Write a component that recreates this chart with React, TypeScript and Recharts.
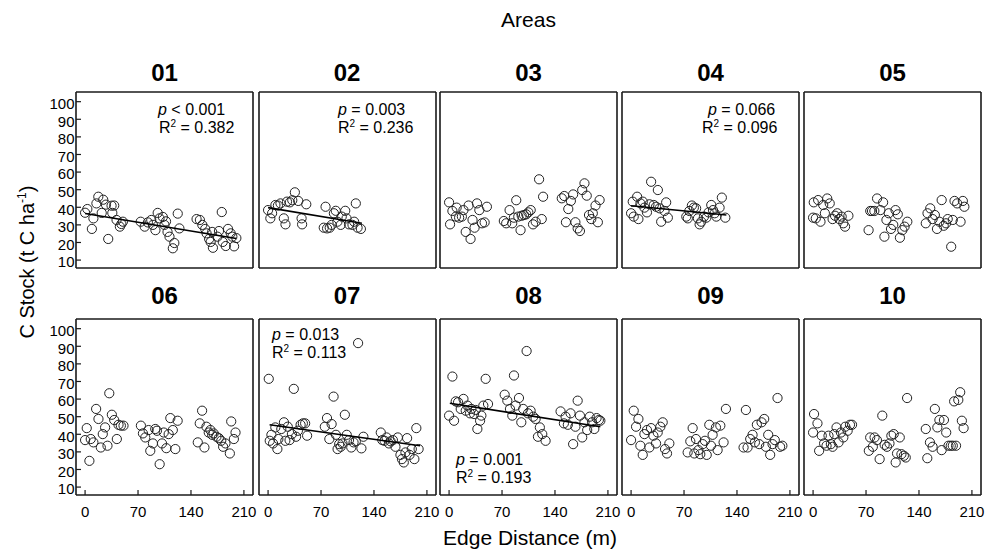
import React from "react";
import { Scatter, ScatterChart, XAxis, YAxis } from "recharts";

type Pair = [number, number];

const areaTitles = ["01", "02", "03", "04", "05", "06", "07", "08", "09", "10"];
const distTicks = [0, 70, 140, 210];
const stockTicks = [10, 20, 30, 40, 50, 60, 70, 80, 90, 100];

// edge distance (m), C stock (t C/ha)
const area01: Pair[] = [
  [0, 36.9], [3, 39], [9, 27.7], [11, 33.7], [15, 42.2], [17.5, 46], [22, 36.8], [24, 44.3], [27.6, 41.5],
  [30.6, 22], [35, 40.9], [36, 36.8], [38.5, 41], [41.6, 32.8], [46, 29], [48, 30.5], [50, 31.8],
  [73.5, 31.8], [78.8, 29], [83, 31.4], [87.5, 32.8], [89.7, 30], [93, 27], [96, 36.8], [98.4, 33.7],
  [102.8, 34.5], [105, 30], [107, 32], [109, 26], [111.6, 23.3], [116, 16.7], [118, 19.7], [122.5, 36.4],
  [124.7, 28], [147.4, 33.3], [151.8, 32.8], [155, 30], [158.8, 27.7], [160.6, 25.2], [164, 22], [166, 20.3],
  [168, 26], [169, 17], [175, 23.3], [177, 26.5], [180.7, 37.3], [182, 20.3], [186, 18], [189, 27.7],
  [192.5, 25.2], [194.7, 23.3], [197, 17.8], [200, 22.5],
];
const area02: Pair[] = [
  [0, 38.4], [3, 33.7], [5.3, 36.6], [9.7, 41.3], [13, 41], [16.4, 42.2], [20.8, 33.7], [23, 30.3], [25, 43.2],
  [28.8, 42.8], [32, 44], [35.4, 48.5], [39.9, 43.6], [44.3, 33.7], [45, 30.3], [50.5, 41.7], [73.6, 28.4],
  [76, 40.3], [78, 28], [81.5, 28.4], [84, 30], [87, 36.6], [89.5, 38], [91.7, 31.8], [96, 30], [97.4, 34.7],
  [102, 38], [103.7, 33.7], [107, 30.3], [111.6, 30], [113.8, 31.8], [116, 42.2], [118.3, 28.4], [122.7, 27.7],
];
const area03: Pair[] = [
  [0, 42.8], [1.3, 30.3], [4.4, 37.9], [9, 34.7], [10, 39.8], [13.3, 34.1], [16.9, 34.7], [19, 38.4], [22, 26],
  [25.8, 41], [28.4, 22], [31, 32.8], [33.7, 28.4], [36.9, 42.2], [40, 38.4], [43.5, 30.9], [47, 31.4], [50, 40.3],
  [72.4, 32.2], [75.5, 30.9], [80, 38.4], [83.5, 30.9], [85.7, 34.1], [88.8, 44], [91.5, 34.7], [94.5, 27],
  [96, 35.2], [99, 35.6], [102, 36], [104.8, 37.1], [107.9, 38.4], [111, 30.3], [114.5, 31.8], [119, 55.9],
  [122.5, 33.3], [124.3, 46], [149, 45.1], [152.3, 46.4], [154.5, 31.5], [157.6, 39], [161, 43.6], [164, 47.3],
  [167, 31.5], [170, 28], [173, 26.5], [176, 49.8], [179, 53.6], [182, 46.6], [185, 35.6], [188, 33.3],
  [190, 36.6], [193.6, 41], [196.7, 31.5], [199, 44.1],
];
const area04: Pair[] = [
  [0, 36.6], [2.2, 43.2], [3.5, 34.7], [8, 46], [9.7, 33.3], [12.4, 42.2], [15.5, 43.2], [17.7, 39.8], [21, 37.1],
  [24.3, 41.7], [26.5, 54.5], [30, 41.3], [33, 40.3], [35.4, 49.8], [37.6, 39.4], [39.8, 31.8], [44.2, 37.9],
  [46.4, 42.8], [48.6, 34.1], [73, 34.7], [75, 33.7], [77, 37.9], [80.4, 41], [83, 39.8], [86, 39.4], [88.4, 33.7],
  [90.6, 30.3], [92.8, 31.8], [96.4, 34.7], [99.5, 34.1], [102.5, 37.1], [106, 41.3], [108.3, 38.4], [110.5, 36.6],
  [112.7, 34.7], [117, 39.8], [120, 45.5], [124.6, 34.1],
];
const area05: Pair[] = [
  [0, 34.1], [0.9, 42.8], [3.6, 33.7], [6.7, 44.1], [9.8, 31.8], [13.4, 41.3], [15.6, 36.6], [18.7, 45], [22, 42.2],
  [25.8, 33.3], [29, 35.2], [32, 36.6], [34.7, 33.3], [37.8, 34.7], [40, 30.9], [42.3, 29], [46.7, 35.2],
  [73.4, 27], [75.6, 37.9], [77.9, 37.9], [81, 37.9], [84.6, 45], [89, 38.4], [92.6, 42.8], [94.3, 23.3], [97, 32.8],
  [100, 36.6], [103, 27.7], [106, 30], [109, 38.4], [112, 36], [114.8, 22.7], [118, 27], [121, 29], [124.6, 31.8],
  [149, 30.9], [151.3, 36.6], [154.9, 39.4], [158, 33.3], [161, 35.6], [163.8, 27.7], [167, 31.8], [170, 44.1],
  [172.7, 29.5], [175.8, 30.9], [178, 33.3], [182.6, 17.6], [184.7, 32.8], [187, 43.6], [190.5, 42.2], [195, 31.8],
  [198, 43.6], [200, 40.3],
];
const area06: Pair[] = [
  [0, 36.7], [2.2, 43.5], [5.7, 24.9], [7.5, 37.3], [11, 35.4], [14.6, 54.4], [17.7, 48.7], [20.8, 32.5], [23.4, 40.1],
  [26.5, 43.9], [29.6, 33.5], [32, 63.3], [35.4, 51.1], [38.5, 48.1], [42, 37.3], [44.2, 45.4], [47.3, 44.9],
  [50.8, 44.9], [73.8, 44.9], [76.5, 40.5], [79.6, 38.2], [84, 42.4], [86.2, 30.6], [89.7, 34.8], [92.8, 43],
  [95, 42], [98.6, 23], [101.7, 34.8], [104, 41], [107.4, 32.1], [110.5, 40.1], [112.7, 49.2], [116, 42.4],
  [119.3, 31.6], [122.4, 47.7], [149, 35.4], [151.6, 46.2], [154.7, 53.4], [157.8, 32.5], [160.4, 44.3],
  [163.5, 41], [165.7, 42.4], [168, 39.7], [170, 40.5], [173.7, 38.6], [176.8, 37.8], [180, 36.3], [182.5, 32.9],
  [185.6, 34.8], [191.4, 29.1], [193.2, 47.3], [196.7, 37.3], [198.9, 41],
];
const area07: Pair[] = [
  [0.9, 71.5], [2.2, 36.3], [4.4, 39.7], [6.6, 34.8], [9.6, 43.9], [12.3, 31.6], [13.6, 37.3], [17.5, 43], [21, 46.8],
  [22.8, 36.3], [26, 44.3], [28.4, 36.7], [31.5, 40.1], [34, 65.8], [37, 38.6], [39.4, 42], [43, 45.4], [46, 46.2],
  [49, 46.2], [51.6, 39.2], [75, 44.3], [77.9, 49.2], [81, 37.3], [84, 45.8], [86.6, 61.4], [89.7, 39.7],
  [91.9, 31.6], [94, 34.4], [96, 32.9], [98.4, 34.8], [101.5, 51.1], [104, 39.7], [107, 36.7], [110, 32.5],
  [113, 35.4], [116, 36], [119, 91.8], [123.4, 32], [126, 38.6], [149, 41], [151, 36.7], [154, 36.3], [156.6, 38.2],
  [159.7, 34.8], [162, 36], [165, 36.7], [168.4, 32.9], [171.5, 38.2], [175, 28.3], [177, 25.9], [179.4, 24],
  [181.6, 29.7], [183.8, 37.8], [187, 28.3], [190, 31.6], [193.4, 25.9], [196, 43.5], [199, 31.6],
];
const area08: Pair[] = [
  [0, 50.6], [4.4, 72.8], [6.6, 47.7], [8.8, 58.7], [11.9, 58.2], [15.4, 54.4], [19, 60.1], [22, 53.4], [24.2, 56.3],
  [27.7, 51.9], [29.5, 54.4], [33, 51.5], [35.2, 53.8], [37.4, 43], [41, 47.7], [42.7, 50.6], [45.3, 56.3],
  [48.4, 71.5], [51.5, 57.2], [73.5, 62.5], [77, 59.1], [80.5, 54.4], [83.6, 50.6], [85.8, 73.4], [88, 56.3],
  [92.4, 60.6], [95.5, 46.8], [98, 54.4], [102.5, 87.3], [104.3, 51.9], [107.8, 53.4], [111.3, 50], [114.4, 48.7],
  [117.5, 38.6], [120, 43.9], [123.2, 40.1], [127.6, 36.3], [147.4, 53], [151.8, 46.2], [154, 50], [157, 45.4],
  [160.6, 51.9], [164, 34.4], [167, 44.3], [170, 59.1], [173, 50.6], [176, 38.2], [179, 46.8], [182.6, 42.4],
  [186, 50], [189, 46.8], [192, 43], [195, 49.2], [198, 48.1], [200, 47.7],
];
const area09: Pair[] = [
  [0, 36.7], [3.5, 53.4], [6.6, 44.3], [9.7, 48.7], [12.3, 33.5], [15.4, 28.3], [17.6, 40.1], [21, 42.4], [24.2, 32.5],
  [26.4, 43.5], [29.5, 39.2], [33, 34.8], [35.2, 41], [38.7, 44.3], [41.8, 46.8], [44.9, 31.6], [47.5, 29.1],
  [50.6, 34.8], [74.8, 29.7], [78.3, 36], [81.4, 43.5], [83.6, 29.1], [85.8, 37.3], [89, 31], [91.5, 28.7],
  [94.6, 34.4], [97.7, 36.3], [100, 28.3], [103.4, 45.4], [105.6, 33.5], [107.8, 39.7], [112.2, 43.9], [114.4, 31],
  [118, 44.9], [122.3, 35.4], [125.4, 54.4], [148.7, 32.5], [151.8, 53.8], [154, 32.5], [157.5, 37.3],
  [160.6, 39.7], [163.7, 35.4], [166.3, 45.4], [169.4, 34.4], [172.5, 46.8], [176, 48.7], [178.2, 32.9],
  [181.3, 39.7], [183.9, 28.3], [187, 34.4], [190, 36.7], [193.6, 60.6], [197, 32.9], [200, 33.5],
];
const area10: Pair[] = [
  [0, 41], [1.3, 51.5], [5.8, 46.2], [8, 30.6], [11.5, 39.2], [14.6, 34.8], [17.8, 33.5], [20.4, 39.2], [23.5, 34.4],
  [25.8, 32.9], [28, 40.1], [31, 43.9], [33.7, 35.4], [36.9, 41], [40, 38.2], [42.6, 44.3], [45.7, 42], [48.8, 45.4],
  [51.5, 45.4], [73.7, 30.6], [75.5, 38.2], [79, 32.9], [81.3, 38.2], [84.4, 36.7], [88, 25.9], [91.5, 50.6],
  [94.6, 34], [97.7, 32.9], [101, 34.8], [103.5, 39.2], [106.6, 40.1], [109.2, 24], [111, 29.1], [114.6, 38.2],
  [116.8, 28.7], [120, 27.8], [122.5, 26.8], [124.3, 60.6], [149, 43], [151, 26.4], [154.5, 35.4], [158, 32.9],
  [161, 54.4], [164.3, 43.9], [167, 48.1], [170, 31], [173, 48.1], [176, 41], [179, 33.5], [182, 33.5],
  [184.7, 33.5], [186.5, 58.7], [189, 33.5], [192, 59.5], [194.5, 63.9], [196.7, 47.7], [199, 43.5],
];

// fitted regression lines (start, end) where significant
const trend01: Pair[] = [[0, 36.5], [200, 22.3]];
const trend02: Pair[] = [[0, 39.8], [124, 30.9]];
const trend04: Pair[] = [[0, 40.9], [126, 35.6]];
const trend07: Pair[] = [[2, 45.4], [201, 33.5]];
const trend08: Pair[] = [[1, 57.6], [200, 44.3]];

const pValues = ["< 0.001", "= 0.003", null, "= 0.066", null, null, "= 0.013", "= 0.001", null, null];
const r2Values = ["0.382", "0.236", null, "0.096", null, null, "0.113", "0.193", null, null];

const areas = [area01, area02, area03, area04, area05, area06, area07, area08, area09, area10];
const trends = [trend01, trend02, null, trend04, null, null, trend07, trend08, null, null];

// layout
const PLOT_LEFT = [76, 258.5, 440, 622, 804];
const PLOT_TOP = [92, 319];
const PLOT_W = 177;
const PLOT_H = 176;
const Y_AXIS_W = 40;
const X_AXIS_H = 30;
const statPos: Record<number, { left: number; top: number; rLeft: number }> = {
  0: { left: 158, top: 101, rLeft: 159 },
  1: { left: 338, top: 101, rLeft: 338 },
  3: { left: 708, top: 101, rLeft: 702 },
  6: { left: 272, top: 326, rLeft: 272 },
  7: { left: 456, top: 451, rLeft: 456 },
};

const frameLine = { stroke: "#1a1a1a", strokeWidth: 1.6 };
const tickLine = { stroke: "#1a1a1a", strokeWidth: 1.2 };
const font = "'Liberation Sans', Arial, sans-serif";

const toPoints = (pairs: Pair[]) => pairs.map(([x, y]) => ({ x, y }));

function OpenCircle(props: any) {
  return <circle cx={props.cx} cy={props.cy} r={4.6} fill="none" stroke="#222" strokeWidth={1} />;
}

function Panel({ index }: { index: number }) {
  const col = index % 5;
  const row = Math.floor(index / 5);
  const trend = trends[index];
  const showX = row === 1;
  const showY = col === 0;

  return (
    <div style={{ position: "absolute", left: PLOT_LEFT[col] - Y_AXIS_W, top: PLOT_TOP[row] - 4 }}>
      <ScatterChart
        width={Y_AXIS_W + PLOT_W + 4}
        height={PLOT_H + 4 + X_AXIS_H}
        margin={{ top: 3, right: 3, bottom: 0, left: 0 }}
      >
        <XAxis
          xAxisId="b"
          type="number"
          dataKey="x"
          domain={[-12, 222]}
          allowDataOverflow
          ticks={distTicks}
          interval={0}
          height={X_AXIS_H}
          tickSize={-5}
          tickMargin={16}
          axisLine={frameLine}
          tickLine={tickLine}
          tick={showX ? { fill: "#000", fontSize: 15 } : false}
        />
        <XAxis
          xAxisId="t"
          orientation="top"
          type="number"
          domain={[-12, 222]}
          allowDataOverflow
          ticks={distTicks}
          interval={0}
          height={1}
          tickSize={-5}
          axisLine={frameLine}
          tickLine={tickLine}
          tick={false}
        />
        <YAxis
          yAxisId="l"
          type="number"
          dataKey="y"
          domain={[5.5, 105.5]}
          allowDataOverflow
          ticks={stockTicks}
          interval={0}
          width={Y_AXIS_W}
          tickSize={-5}
          tickMargin={6.5}
          axisLine={frameLine}
          tickLine={tickLine}
          tick={showY ? { fill: "#000", fontSize: 15, dy: 2 } : false}
        />
        <YAxis
          yAxisId="r"
          orientation="right"
          type="number"
          domain={[5.5, 105.5]}
          allowDataOverflow
          ticks={stockTicks}
          interval={0}
          width={1}
          tickSize={-5}
          axisLine={frameLine}
          tickLine={tickLine}
          tick={false}
        />
        <Scatter
          xAxisId="b"
          yAxisId="l"
          data={toPoints(areas[index])}
          shape={OpenCircle}
          isAnimationActive={false}
        />
        {trend ? (
          <Scatter
            xAxisId="b"
            yAxisId="l"
            data={toPoints(trend)}
            line={{ stroke: "#000", strokeWidth: 1.6 }}
            shape={() => <g />}
            isAnimationActive={false}
          />
        ) : null}
      </ScatterChart>
    </div>
  );
}

export default function App() {
  return (
    <div
      style={{
        position: "absolute",
        left: 0,
        top: 0,
        width: 988,
        height: 558,
        background: "#fff",
        fontFamily: font,
        color: "#000",
      }}
    >
      <div style={{ position: "absolute", left: 0, width: 1057, top: 7, textAlign: "center", fontSize: 21, lineHeight: "26px" }}>
        Areas
      </div>

      {areaTitles.map((title, i) => (
        <div
          key={title}
          style={{
            position: "absolute",
            left: PLOT_LEFT[i % 5],
            width: PLOT_W,
            top: i < 5 ? 59 : 282,
            textAlign: "center",
            fontSize: 24,
            fontWeight: 700,
            lineHeight: "28px",
          }}
        >
          {title}
        </div>
      ))}

      {areaTitles.map((title, i) => (
        <Panel key={title} index={i} />
      ))}

      {Object.entries(statPos).map(([k, pos]) => {
        const i = Number(k);
        return (
          <React.Fragment key={k}>
            <div style={{ position: "absolute", left: pos.left, top: pos.top, fontSize: 16, lineHeight: "17px", whiteSpace: "nowrap" }}>
              <i>p</i> {pValues[i]}
            </div>
            <div style={{ position: "absolute", left: pos.rLeft, top: pos.top + 18, fontSize: 16, lineHeight: "17px", whiteSpace: "nowrap" }}>
              R<sup style={{ fontSize: 10, verticalAlign: "6px", lineHeight: 0 }}>2</sup> = {r2Values[i]}
            </div>
          </React.Fragment>
        );
      })}

      <div
        style={{
          position: "absolute",
          left: 27 - 120,
          top: 262 - 13,
          width: 240,
          textAlign: "center",
          fontSize: 20,
          lineHeight: "26px",
          transform: "rotate(-90deg)",
          whiteSpace: "nowrap",
        }}
      >
        C Stock (t C ha<sup style={{ fontSize: 12, verticalAlign: "8px", lineHeight: 0 }}>-1</sup>)
      </div>

      <div style={{ position: "absolute", left: 330, width: 400, top: 525, textAlign: "center", fontSize: 21, lineHeight: "26px" }}>
        Edge Distance (m)
      </div>
    </div>
  );
}
